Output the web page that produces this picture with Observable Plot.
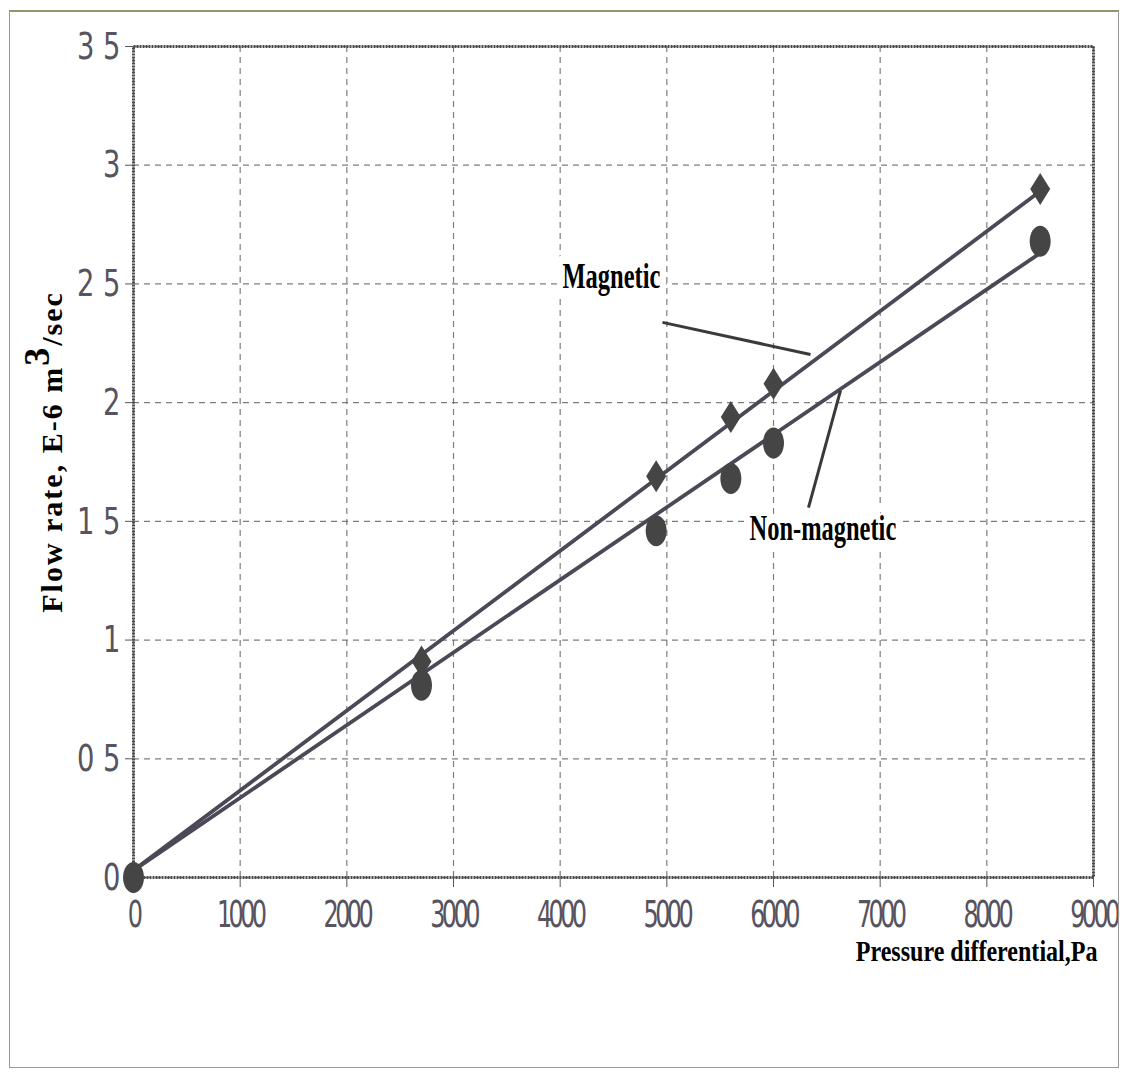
<!DOCTYPE html>
<html><head><meta charset="utf-8">
<script src="https://cdn.jsdelivr.net/npm/d3@7"></script>
<script src="https://cdn.jsdelivr.net/npm/@observablehq/plot@0.6"></script>
<style>
html,body{margin:0;padding:0;background:#fff;}
#wrap{position:relative;width:1123px;height:1077px;overflow:hidden;background:#fff;}
#border{position:absolute;left:9px;top:10px;width:1110px;height:1058px;border:1.5px solid #999;border-top:2px solid #8a9a6a;pointer-events:none;box-sizing:border-box;}
</style></head><body>
<div id="wrap"><div id="chart"></div><div id="border"></div></div>
<script>
// Data
const pressure = [0, 2700, 4900, 5600, 6000, 8500];
const magnetic = [0, 0.91, 1.69, 1.94, 2.08, 2.90];
const nonMagnetic = [0, 0.81, 1.46, 1.68, 1.83, 2.68];
const fitPressure = [0, 8500];
const fitMagnetic = [0.03, 2.89];
const fitNonMagnetic = [0.03, 2.63];
const xTicks = [0, 1000, 2000, 3000, 4000, 5000, 6000, 7000, 8000, 9000];
const yTicks = [0, 0.5, 1, 1.5, 2, 2.5, 3, 3.5];
const yTickLabels = ["0", "0 5", "1", "1 5", "2", "2 5", "3", "3 5"];
const labelNames = ["Magnetic", "Non-magnetic"];
const labelX = [4022, 5775];
const labelY = [2.533, 1.468];
const leaderX1 = [4959, 6628];
const leaderY1 = [2.338, 2.051];
const leaderX2 = [6347, 6328];
const leaderY2 = [2.203, 1.558];
const yTitleMain = "Flow rate, E-6 m";
const yTitleSup = "3";
const yTitleEnd = "/sec";
const xTitle = "Pressure differential,Pa";

const magPts = pressure.map((p, i) => ({p, q: magnetic[i]}));
const nonPts = pressure.map((p, i) => ({p, q: nonMagnetic[i]}));
const magFit = fitPressure.map((p, i) => ({p, q: fitMagnetic[i]}));
const nonFit = fitPressure.map((p, i) => ({p, q: fitNonMagnetic[i]}));
const labels = labelNames.map((t, i) => ({t, x: labelX[i], y: labelY[i]}));
const leaders = labelNames.map((t, i) => ({x1: leaderX1[i], y1: leaderY1[i], x2: leaderX2[i], y2: leaderY2[i]}));

const tallDiamond = {draw(ctx) {
  const w = 10, h = 16;
  ctx.moveTo(0, -h); ctx.lineTo(w, 0); ctx.lineTo(0, h); ctx.lineTo(-w, 0); ctx.closePath();
}};
const tallEllipse = {draw(ctx) {
  const rx = 10.5, ry = 15.5, k = 0.5523;
  ctx.moveTo(rx, 0);
  ctx.bezierCurveTo(rx, ry * k, rx * k, ry, 0, ry);
  ctx.bezierCurveTo(-rx * k, ry, -rx, ry * k, -rx, 0);
  ctx.bezierCurveTo(-rx, -ry * k, -rx * k, -ry, 0, -ry);
  ctx.bezierCurveTo(rx * k, -ry, rx, -ry * k, rx, 0);
  ctx.closePath();
}};

const tickFont = "'DejaVu Sans Condensed', 'Liberation Sans Narrow', sans-serif";
const serif = "'Liberation Serif', 'Times New Roman', serif";

const chart = Plot.plot({
  width: 1123, height: 1077,
  marginLeft: 133, marginRight: 30, marginTop: 46, marginBottom: 200,
  x: {domain: [0, 9000]},
  y: {domain: [0, 3.5]},
  style: {background: "transparent", fontFamily: tickFont},
  marks: [
    Plot.gridX(xTicks, {stroke: "#666", strokeOpacity: 0.85, strokeWidth: 1.2, strokeDasharray: "6,5"}),
    Plot.gridY(yTicks, {stroke: "#666", strokeOpacity: 0.85, strokeWidth: 1.2, strokeDasharray: "6,5"}),
    Plot.frame({stroke: "#4a4a4a", strokeWidth: 3, strokeDasharray: "2,1"}),
    Plot.axisY(yTicks, {tickFormat: d => yTickLabels[yTicks.indexOf(d)], tickSize: 8, tickPadding: 5, fontSize: 38, label: null, color: "#57535f", fontFamily: tickFont}),
    Plot.axisX(xTicks, {tickFormat: d => String(d), tickSize: 10, tickPadding: 13, fontSize: 37, label: null, color: "#57535f", fontFamily: tickFont}),
    Plot.line(magFit, {x: "p", y: "q", stroke: "#4d4856", strokeWidth: 3.8}),
    Plot.line(nonFit, {x: "p", y: "q", stroke: "#4d4856", strokeWidth: 3.8}),
    Plot.dot(magPts, {x: "p", y: "q", symbol: tallDiamond, fill: "#454545", stroke: "none", r: 10}),
    Plot.dot(nonPts, {x: "p", y: "q", symbol: tallEllipse, fill: "#454545", stroke: "none", r: 10}),
    Plot.link(leaders, {x1: "x1", y1: "y1", x2: "x2", y2: "y2", stroke: "#3a3a3a", strokeWidth: 3}),
    Plot.text(labels, {x: "x", y: "y", text: "t", textAnchor: "start", fontSize: 36, fontWeight: "bold", fontFamily: serif, fill: "#000", stroke: "white", strokeWidth: 18, paintOrder: "stroke", ariaDescription: "annotation"}),
    Plot.text([yTitleMain], {frameAnchor: "left", textAnchor: "middle", dx: -81, dy: -10, rotate: -90, fontSize: 30, fontWeight: "bold", fontFamily: serif, fill: "#000", ariaDescription: "y-title"}),
    Plot.text([xTitle], {frameAnchor: "bottom-right", textAnchor: "end", dx: 4, dy: 83, fontSize: 29, fontWeight: "bold", fontFamily: serif, fill: "#000", ariaDescription: "x-title"})
  ]
});

// horizontal condensing of the scanned lettering (only appends a scale to each text's transform)
function squeeze(selector, sx) {
  d3.select(chart).selectAll(selector + " text").each(function() {
    const t = this.getAttribute("transform") || "";
    this.setAttribute("transform", t + ` scale(${sx},1)`);
  });
}
squeeze('g[aria-label="y-axis tick label"]', 0.8);
squeeze('g[aria-label="x-axis tick label"]', 0.72);
d3.select(chart).selectAll('g[aria-label="x-axis tick label"] text').style("letter-spacing", "-5px");
squeeze('g[aria-description="annotation"]', 0.68);
squeeze('g[aria-description="x-title"]', 0.83);
// superscript in the y title
d3.select(chart).selectAll('g[aria-description="y-title"] text').each(function() {
  const t = d3.select(this);
  t.style("letter-spacing", "2px");
  t.append("tspan").attr("font-size", 36).attr("dy", -13).text(yTitleSup);
  t.append("tspan").attr("dy", 13).text(yTitleEnd);
});
document.getElementById("chart").appendChild(chart);
</script>
</body></html>
